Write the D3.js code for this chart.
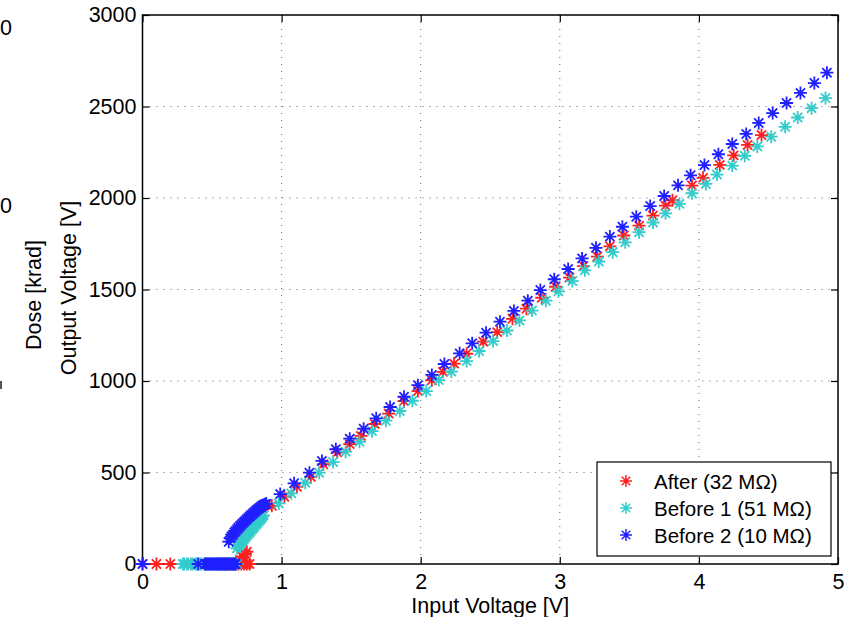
<!DOCTYPE html>
<html>
<head>
<meta charset="utf-8">
<script src="https://cdn.jsdelivr.net/npm/d3@7/dist/d3.min.js"></script>
<style>
  body { margin: 0; background: #fff; }
  svg { display: block; }
  text { font-family: "Liberation Sans", Arial, sans-serif; fill: #000; }
  .domain { display: none; }
</style>
</head>
<body>
<div id="chart"></div>
<script>
// Data
var seriesNames = ["After (32 M\u03A9)", "Before 1 (51 M\u03A9)", "Before 2 (10 M\u03A9)"];

var afterX = [0, 0.10, 0.20, 0.55, 0.57, 0.59, 0.61, 0.63, 0.65, 0.67, 0.69, 0.71, 0.73, 0.75, 0.77,
  0.70, 0.72, 0.74, 0.75, 0.71, 0.73, 0.75, 0.77, 0.79, 0.81, 0.83, 0.85, 0.87, 0.89,
  0.93, 1.02, 1.11, 1.21, 1.30, 1.40, 1.49, 1.57, 1.67, 1.77, 1.88, 1.98, 2.08, 2.16, 2.24, 2.33,
  2.45, 2.55, 2.66, 2.76, 2.87, 2.97, 3.07, 3.17, 3.27, 3.36, 3.46, 3.57, 3.67, 3.76, 3.81, 3.95,
  4.03, 4.15, 4.25, 4.35, 4.45];
var afterY = [0, 0, 0, 0, 0, 0, 0, 0, 0, 0, 0, 0, 0, 0, 0,
  22, 40, 55, 67, 140, 160, 180, 200, 222, 243, 265, 287, 308, 324,
  318, 367, 422, 476, 545, 610, 655, 700, 765, 822, 890, 945, 1004, 1050, 1095, 1149,
  1215, 1267, 1340, 1395, 1455, 1515, 1565, 1628, 1680, 1736, 1795, 1849, 1904, 1958, 1988, 2068,
  2110, 2181, 2233, 2290, 2344];

var before1X = [0.29, 0.30, 0.32, 0.33, 0.35, 0.36, 0.38, 0.39, 0.41, 0.42, 0.44, 0.45, 0.47, 0.48,
  0.50, 0.51, 0.53, 0.54, 0.56, 0.57, 0.59, 0.60, 0.62, 0.63, 0.65, 0.66, 0.68,
  0.68, 0.69, 0.70, 0.71, 0.72, 0.73, 0.74, 0.75, 0.76, 0.77, 0.78, 0.79, 0.80, 0.81, 0.82, 0.83,
  0.84, 0.85, 0.86, 0.87,
  0.98, 1.07, 1.17, 1.27, 1.37, 1.46, 1.56, 1.65, 1.75, 1.85, 1.94, 2.04, 2.13, 2.22, 2.33, 2.42,
  2.52, 2.62, 2.71, 2.80, 2.90, 2.99, 3.09, 3.18, 3.28, 3.38, 3.47, 3.57, 3.67, 3.76, 3.86, 3.95,
  4.05, 4.13, 4.24, 4.33, 4.42, 4.52, 4.62, 4.71, 4.81, 4.91];
var before1Y = [0, 0, 0, 0, 0, 0, 0, 0, 0, 0, 0, 0, 0, 0,
  0, 0, 0, 0, 0, 0, 0, 0, 0, 0, 0, 0, 0,
  86, 98, 108, 118, 128, 137, 146, 156, 165, 174, 183, 192, 201, 210, 219, 228,
  237, 246, 256, 266,
  331, 386, 444, 499, 557, 614, 668, 726, 783, 836, 892, 945, 1005, 1052, 1109, 1164,
  1218, 1276, 1331, 1385, 1439, 1490, 1546, 1605, 1653, 1704, 1758, 1813, 1866, 1916, 1968, 2026,
  2077, 2128, 2177, 2231, 2282, 2335, 2389, 2440, 2491, 2546];

var before2X = [0, 0.40, 0.45, 0.46, 0.47, 0.48, 0.49, 0.50, 0.51, 0.52, 0.53, 0.54, 0.55, 0.56,
  0.57, 0.58, 0.59, 0.60, 0.61, 0.62, 0.63, 0.64, 0.65, 0.66, 0.67,
  0.62, 0.63, 0.64, 0.65, 0.66, 0.67, 0.68, 0.69, 0.70, 0.71, 0.72, 0.73, 0.74, 0.75, 0.76, 0.77,
  0.78, 0.79, 0.80, 0.81, 0.82, 0.83, 0.84, 0.85, 0.86, 0.87, 0.88, 0.89,
  0.99, 1.09, 1.20, 1.29, 1.39, 1.49, 1.59, 1.68, 1.78, 1.88, 1.98, 2.08, 2.17, 2.28, 2.37, 2.47,
  2.57, 2.67, 2.77, 2.86, 2.96, 3.06, 3.16, 3.26, 3.36, 3.45, 3.55, 3.65, 3.75, 3.85, 3.94, 4.04,
  4.14, 4.24, 4.34, 4.43, 4.53, 4.63, 4.73, 4.83, 4.92];
var before2Y = [0, 0, 0, 0, 0, 0, 0, 0, 0, 0, 0, 0, 0, 0,
  0, 0, 0, 0, 0, 0, 0, 0, 0, 0, 0,
  122, 140, 150, 160, 172, 180, 190, 198, 206, 214, 222, 229, 237, 244, 252, 259,
  266, 273, 280, 287, 294, 300, 306, 312, 318, 322, 327, 330,
  382, 441, 499, 563, 627, 685, 739, 796, 858, 914, 977, 1033, 1093, 1151, 1206, 1264,
  1324, 1383, 1439, 1497, 1556, 1612, 1670, 1728, 1789, 1843, 1898, 1956, 2011, 2069, 2124, 2180,
  2239, 2295, 2350, 2410, 2464, 2519, 2574, 2628, 2685];

var xTicks = [0, 1, 2, 3, 4, 5];
var yTicks = [0, 500, 1000, 1500, 2000, 2500, 3000];
var colors = ["#ff1f1f", "#33cccc", "#1f1fff"];

var svgWidth = 847;
var svgHeight = 617;
var margin = { top: 15, right: 9, bottom: 53, left: 142.5 };
var width = svgWidth - margin.left - margin.right;
var height = svgHeight - margin.top - margin.bottom;
var fontSize = "21.5px";

var svg = d3.select("#chart")
  .append("svg")
  .attr("width", svgWidth)
  .attr("height", svgHeight);

// bits of the neighbouring plot cut off on the left
svg.append("text").attr("x", 0).attr("y", 35).style("font-size", fontSize).text("0");
svg.append("text").attr("x", 0).attr("y", 213).style("font-size", fontSize).text("0");
svg.append("rect").attr("x", 0).attr("y", 381).attr("width", 2).attr("height", 8).attr("fill", "#555");
svg.append("text")
  .attr("transform", "translate(41,295) rotate(-90)")
  .attr("text-anchor", "middle")
  .style("font-size", fontSize)
  .text("Dose [krad]");

var chart = svg.append("g")
  .attr("transform", "translate(" + margin.left + "," + margin.top + ")");

var xScale = d3.scaleLinear().domain([0, 5]).range([0, width]);
var yScale = d3.scaleLinear().domain([0, 3000]).range([height, 0]);

// dotted grid
chart.selectAll(".vgrid")
  .data(xTicks.slice(1, -1))
  .enter().append("line")
  .attr("x1", function(d) { return xScale(d); })
  .attr("x2", function(d) { return xScale(d); })
  .attr("y1", 0).attr("y2", height)
  .attr("stroke", "#666").attr("stroke-width", 1)
  .attr("stroke-dasharray", "1,6");

chart.selectAll(".hgrid")
  .data(yTicks.slice(1, -1))
  .enter().append("line")
  .attr("x1", 0).attr("x2", width)
  .attr("y1", function(d) { return yScale(d); })
  .attr("y2", function(d) { return yScale(d); })
  .attr("stroke", "#666").attr("stroke-width", 1)
  .attr("stroke-dasharray", "1,6");

// axes, ticks pointing in like matlab
var xAxis = chart.append("g")
  .attr("transform", "translate(0," + height + ")")
  .call(d3.axisBottom(xScale).tickValues(xTicks).tickFormat(d3.format("d")).tickSize(-7).tickPadding(10));
xAxis.selectAll("text").style("font-size", fontSize);

var yAxis = chart.append("g")
  .call(d3.axisLeft(yScale).tickValues(yTicks).tickFormat(d3.format("d")).tickSize(-7).tickPadding(6));
yAxis.selectAll("text").style("font-size", fontSize);

chart.append("g")
  .attr("transform", "translate(" + width + ",0)")
  .call(d3.axisRight(yScale).tickValues(yTicks).tickSize(-7).tickFormat(""));
chart.append("g")
  .call(d3.axisTop(xScale).tickValues(xTicks).tickSize(-7).tickFormat(""));

chart.selectAll(".tick line").attr("stroke", "#000").attr("stroke-width", 1.2);

chart.append("rect")
  .attr("width", width).attr("height", height)
  .attr("fill", "none").attr("stroke", "#000").attr("stroke-width", 1.5);

// asterisk marker
function star(r) {
  var d = r * 0.7071;
  return "M" + (-r) + ",0L" + r + ",0M0," + (-r) + "L0," + r +
    "M" + (-d) + "," + (-d) + "L" + d + "," + d + "M" + (-d) + "," + d + "L" + d + "," + (-d);
}

var allX = [afterX, before1X, before2X];
var allY = [afterY, before1Y, before2Y];

allX.forEach(function(xs, s) {
  var ys = allY[s];
  chart.append("g")
    .selectAll("path")
    .data(xs)
    .enter().append("path")
    .attr("transform", function(d, i) {
      return "translate(" + xScale(d) + "," + yScale(ys[i]) + ")";
    })
    .attr("d", star(6.5))
    .attr("fill", "none")
    .attr("stroke", colors[s])
    .attr("stroke-width", 1.8);
});

// axis labels
svg.append("text")
  .attr("x", margin.left + width / 2)
  .attr("y", 613)
  .attr("text-anchor", "middle")
  .style("font-size", fontSize)
  .text("Input Voltage [V]");

svg.append("text")
  .attr("transform", "translate(76,288) rotate(-90)")
  .attr("text-anchor", "middle")
  .style("font-size", fontSize)
  .text("Output Voltage [V]");

// legend
var legend = svg.append("g").attr("transform", "translate(597,462)");
legend.append("rect")
  .attr("width", 234).attr("height", 94)
  .attr("fill", "#fff").attr("stroke", "#000").attr("stroke-width", 1.2);

seriesNames.forEach(function(name, i) {
  var row = legend.append("g").attr("transform", "translate(0," + (19 + i * 27) + ")");
  row.append("path")
    .attr("transform", "translate(29,0)")
    .attr("d", star(6))
    .attr("fill", "none")
    .attr("stroke", colors[i])
    .attr("stroke-width", 1.5);
  row.append("text")
    .attr("x", 57)
    .attr("y", 7.5)
    .style("font-size", "20.5px")
    .text(name);
});
</script>
</body>
</html>
